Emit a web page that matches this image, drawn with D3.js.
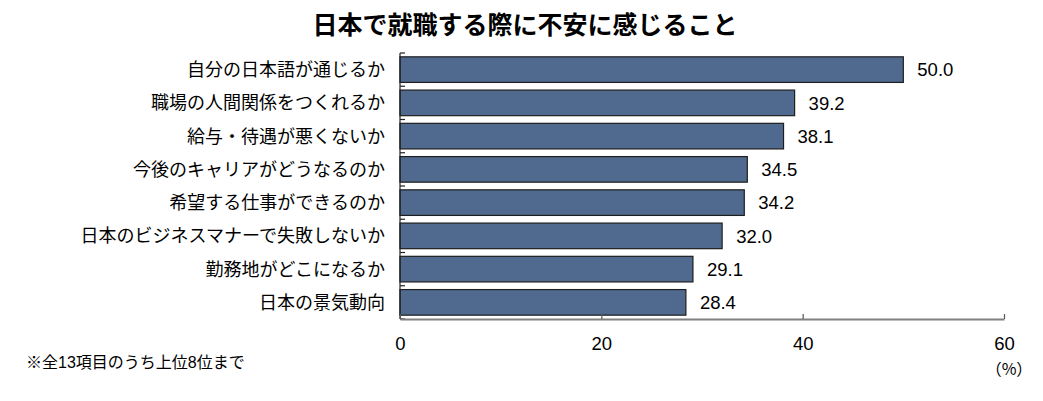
<!DOCTYPE html>
<html>
<head>
<meta charset="utf-8">
<script src="https://cdn.jsdelivr.net/npm/d3@7"></script>
<style>
  body { margin: 0; background: #fff; }
  text { font-family: "Liberation Sans", "Noto Sans CJK JP", sans-serif; fill: #000; }
</style>
</head>
<body>
<svg id="chart" width="1043" height="401"></svg>
<script>
// chart data
const categories = [
    "自分の日本語が通じるか",
    "職場の人間関係をつくれるか",
    "給与・待遇が悪くないか",
    "今後のキャリアがどうなるのか",
    "希望する仕事ができるのか",
    "日本のビジネスマナーで失敗しないか",
    "勤務地がどこになるか",
    "日本の景気動向"
];
const values = [50.0, 39.2, 38.1, 34.5, 34.2, 32.0, 29.1, 28.4];
const xTicks = [0, 20, 40, 60];

const titleText = "日本で就職する際に不安に感じること";
const noteText = "※全13項目のうち上位8位まで";
const unitText = "（%）";

const svg = d3.select("#chart");
const margin = {top: 53, right: 39, bottom: 82, left: 400};
const width = 1043, height = 401;

const x = d3.scaleLinear()
    .domain([0, 60])
    .range([margin.left, width - margin.right]);

const y = d3.scaleBand()
    .domain(categories)
    .range([margin.top, height - margin.bottom])
    .paddingInner(0.23)
    .paddingOuter(0.115);

//title
svg.append("text")
    .attr("x", 525)
    .attr("y", 34)
    .attr("text-anchor", "middle")
    .style("font-size", "25px")
    .style("font-weight", "bold")
    .style("font-family", "'Noto Sans CJK JP', sans-serif")
    .text(titleText);

//bars
svg.append("g")
    .selectAll("rect")
    .data(values)
    .join("rect")
        .attr("x", x(0))
        .attr("y", (v, i) => y(categories[i]))
        .attr("width", v => x(v) - x(0))
        .attr("height", y.bandwidth())
        .attr("fill", "#50698f")
        .attr("stroke", "#1e1e1e")
        .attr("stroke-width", 1.2);

//value labels
svg.append("g")
    .selectAll("text")
    .data(values)
    .join("text")
        .attr("x", v => x(v) + 14)
        .attr("y", (v, i) => y(categories[i]) + y.bandwidth() / 2)
        .attr("dy", "0.36em")
        .style("font-size", "18.5px")
        .text(v => v.toFixed(1));

//category labels
svg.append("g")
    .selectAll("text")
    .data(categories)
    .join("text")
        .attr("x", x(0) - 15)
        .attr("y", d => y(d) + y.bandwidth() / 2)
        .attr("dy", "0.36em")
        .attr("text-anchor", "end")
        .style("font-size", "18px")
        .text(d => d);

//y axis line and ticks at band boundaries
const step = y.step();
const bounds = categories.map(c => y(c) - step * y.paddingInner() / 2);
bounds.push(y.range()[1]);
svg.append("line")
    .attr("x1", x(0)).attr("x2", x(0))
    .attr("y1", y.range()[0]).attr("y2", y.range()[1])
    .attr("stroke", "#222").attr("stroke-width", 1.2);
svg.append("g")
    .selectAll("line")
    .data(bounds)
    .join("line")
        .attr("x1", x(0)).attr("x2", x(0) + 5)
        .attr("y1", d => d).attr("y2", d => d)
        .attr("stroke", "#222").attr("stroke-width", 1.2);

//x axis
const xAxis = d3.axisBottom(x)
    .tickValues(xTicks)
    .tickSizeInner(-5)
    .tickSizeOuter(0)
    .tickPadding(0);
const gx = svg.append("g")
    .attr("transform", `translate(0,${y.range()[1]})`)
    .call(xAxis);
gx.select(".domain").attr("stroke", "#808080").attr("stroke-width", 2);
gx.selectAll(".tick line").attr("stroke", "#555").attr("stroke-width", 1.2);
gx.selectAll(".tick text")
    .attr("y", 24)
    .attr("dy", "0.36em")
    .style("font-size", "18.5px")
    .style("font-family", "'Liberation Sans', sans-serif");

svg.append("text")
    .attr("x", x(60) + 5)
    .attr("y", 369)
    .attr("dy", "0.36em")
    .attr("text-anchor", "middle")
    .style("font-size", "16px")
    .style("font-family", "'Noto Sans CJK JP', sans-serif")
    .text(unitText);

//footnote
svg.append("text")
    .attr("x", 26)
    .attr("y", 362)
    .attr("dy", "0.36em")
    .style("font-size", "16px")
    .text(noteText);
</script>
</body>
</html>
